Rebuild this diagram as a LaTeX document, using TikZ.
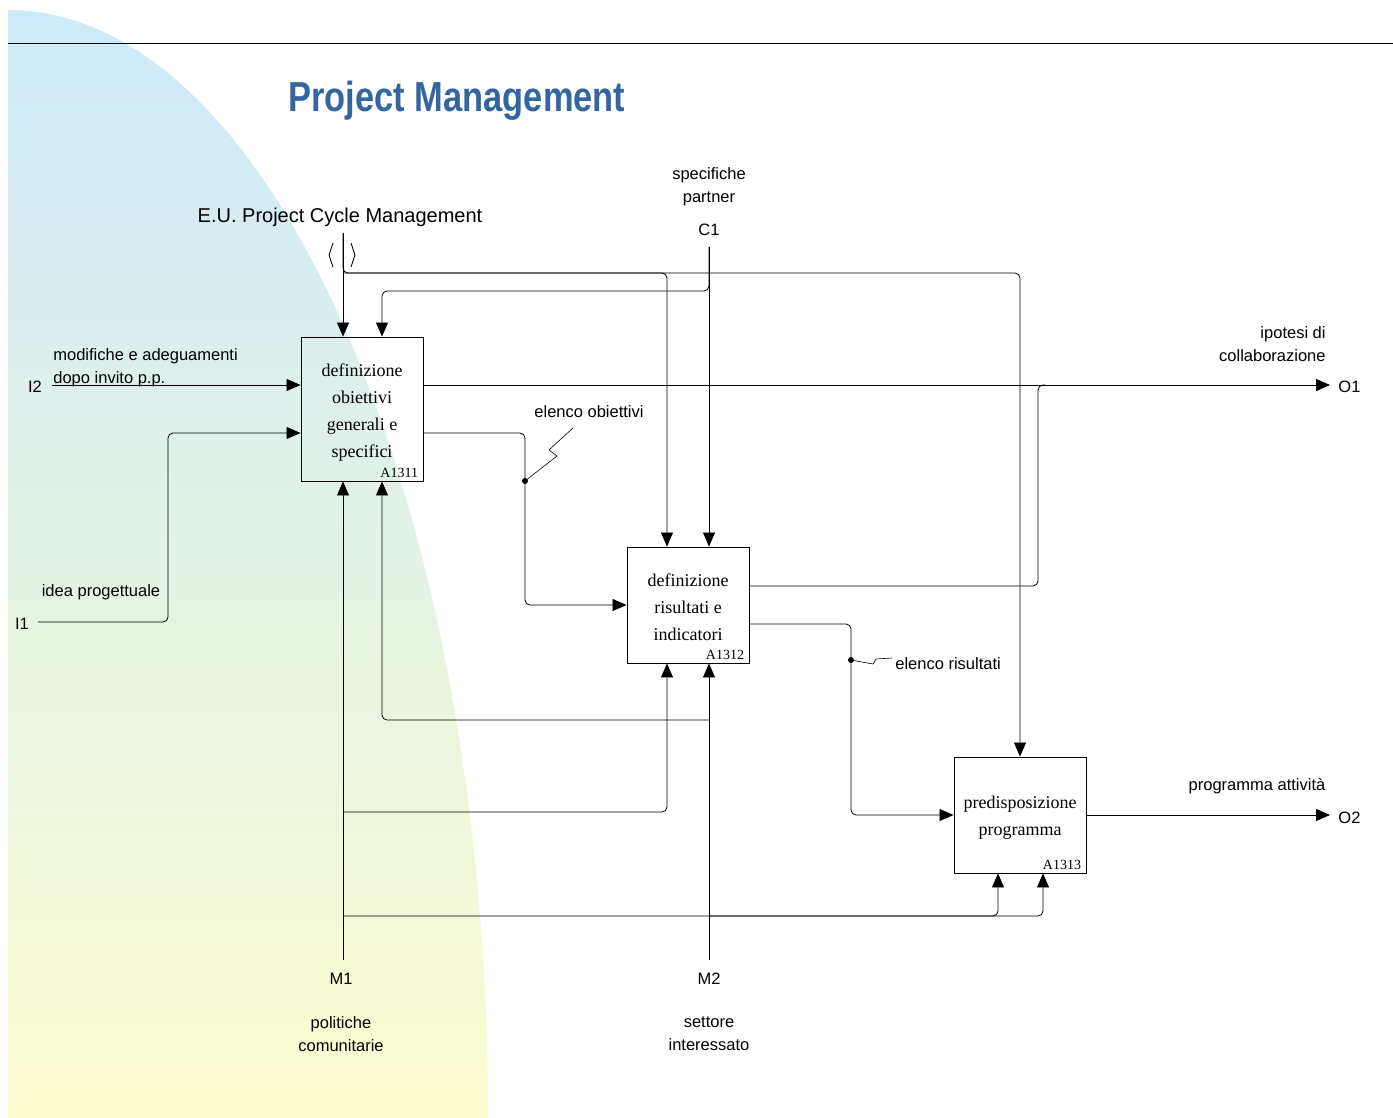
\documentclass[tikz,border=0pt]{standalone}
\usepackage{fontspec}
\setmainfont{Liberation Sans}
\newfontfamily\boxfont{Liberation Serif}
\usetikzlibrary{arrows.meta,calc}
\definecolor{titleblue}{RGB}{51,102,158}
\definecolor{bgtop}{RGB}{204,234,250}
\definecolor{bgbot}{RGB}{252,252,208}

\begin{document}
\begin{tikzpicture}[x=1pt,y=-1pt,
    blk/.style={draw,line width=0.9pt,inner sep=0pt,align=center,
      font=\boxfont\fontsize{18}{27}\selectfont},
    code/.style={anchor=south east,inner sep=0pt,font=\boxfont\fontsize{14}{14}\selectfont},
    lbl/.style={align=center,inner sep=0pt,font=\fontsize{16.5}{23}\selectfont},
    ar/.style={-{Triangle[length=14pt,width=12pt]}},
    rc/.style={rounded corners=5pt},
    line width=0.8pt]
  \useasboundingbox (0,0) rectangle (1393,1118);
  % background
  \shade[top color=bgtop,bottom color=bgbot] (8,1118) -- (8,10)
    arc[start angle=-90,end angle=0,x radius=480,y radius=1108] -- cycle;
  \draw (8,43) -- (1393,43);
  \node[font=\fontsize{42}{42}\selectfont\bfseries,text=titleblue,xscale=0.82] (title) at (457,101) {Project Management};

  % activities
  \node[blk,minimum width=122pt,minimum height=144pt] (a1) at (362,409) {\rule{0pt}{19pt}definizione\\obiettivi\\generali e\\specifici};
  \node[blk,minimum width=122pt,minimum height=116pt] (a2) at (688,605) {\rule{0pt}{17pt}definizione\\risultati e\\indicatori};
  \node[blk,minimum width=132pt,minimum height=116pt] (a3) at (1020,815) {\rule{0pt}{17pt}predisposizione\\programma};
  \foreach \b/\c in {a1/A1311,a2/A1312,a3/A1313}
    \node[code] (\b code) at ([xshift=-5,yshift=3]\b.south east) {\c};

  % free ends
  \coordinate (eu) at (343,233);
  \coordinate (c1) at (709,247);
  \coordinate (i2) at (52,385);
  \coordinate (i1) at (38,622);
  \coordinate (o1) at (1330,385);
  \coordinate (o2) at (1330,815);
  \coordinate (m1) at (343,960);
  \coordinate (m2) at (709,960);

  % controls
  \draw[ar] (eu) -- (eu |- a1.north);
  \draw[ar,rc] (eu) |- (a3.north |- 0,273) -- (a3.north);
  \draw[ar,rc] (eu |- 0,273) -| ([xshift=-21]a2.north);
  \draw (333,243) -- (329,255) -- (333,267) (351,243) -- (355,255) -- (351,267);
  \draw[ar] (c1) -- (c1 |- a2.north);
  \draw[ar,rc] (c1) |- ([xshift=20]a1.north |- 0,291) -- ([xshift=20]a1.north);

  % inputs
  \draw[ar] (i2) -- ([yshift=24]a1.west);
  \draw[ar,rc] (i1) -| (168,433) -- ([yshift=-24]a1.west);
  \draw[ar,rc] ([yshift=-24]a1.east) -| (525,605) -- (a2.west);
  \draw[ar,rc] ([yshift=-19]a2.east) -| (851,815) -- (a3.west);

  % outputs
  \draw[ar] ([yshift=24]a1.east) -- (o1);
  \draw[rc] ([yshift=19]a2.east) -| (1038,385) -- (1045,385);
  \draw[ar] (a3.east) -- (o2);

  % mechanisms
  \draw[ar] (m1) -- (m1 |- a1.south);
  \draw[ar,rc] (m1 |- 0,812) -| ([xshift=-21]a2.south);
  \draw[ar,rc] (m1 |- 0,916) -| ([xshift=-22]a3.south);
  \draw[ar] (m2) -- (m2 |- a2.south);
  \draw[ar,rc] (m2 |- 0,720) -| ([xshift=20]a1.south);
  \draw[ar,rc] (m2 |- 0,916) -| ([xshift=23]a3.south);

  % squiggles
  \coordinate (d1) at (525,481);
  \coordinate (d2) at (851,660);
  \fill (d1) circle (3) (d2) circle (3);
  \draw[line width=0.6pt] (d1) -- (557,456) -- (549,450) -- (573,428);
  \draw[line width=0.6pt] (d2) -- (873,664) -- (876,659) -- (892,658);

  % labels
  \node[lbl,font=\fontsize{20}{24}\selectfont] (teu) at (340,217) {E.U. Project Cycle Management};
  \node[lbl] (tsp) at (709,187) {specifiche\\partner};
  \node[lbl] (tc1) at (709,230) {C1};
  \node[lbl,align=left,anchor=west] (tmod) at (53,368) {modifiche e adeguamenti\\dopo invito p.p.};
  \node[lbl] (ti2) at (35,387) {I2};
  \node[lbl] (tidea) at (101,592) {idea progettuale};
  \node[lbl] (ti1) at (22,624) {I1};
  \node[lbl,align=right,anchor=east] (tip) at (1326,344) {ipotesi di\\collaborazione};
  \node[lbl,anchor=west] (to1) at (1338,387) {O1};
  \node[lbl] (tobj) at (589,412) {elenco obiettivi};
  \node[lbl,anchor=west] (tris) at (895,664) {elenco risultati};
  \node[lbl] (tprog) at (1257,786) {programma attivit\`a};
  \node[lbl,anchor=west] (to2) at (1338,818) {O2};
  \node[lbl] (tm1) at (341,979) {M1};
  \node[lbl] (tpol) at (341,1034) {politiche\\comunitarie};
  \node[lbl] (tm2) at (709,979) {M2};
  \node[lbl] (tset) at (709,1034) {settore\\interessato};
\end{tikzpicture}
\end{document}
